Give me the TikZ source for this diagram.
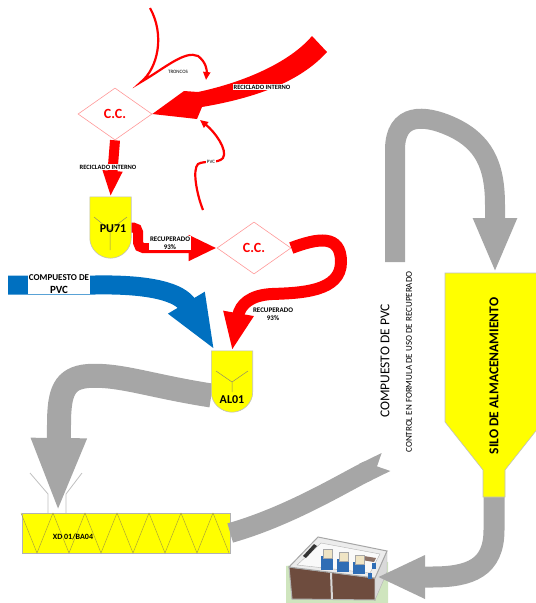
\documentclass[tikz,border=0pt]{standalone}
\usepackage{fontspec}
\setmainfont{Carlito}
\usetikzlibrary{arrows.meta,shapes.geometric}
\definecolor{FlowRed}{HTML}{FF0000}
\definecolor{FlowBlue}{HTML}{0070C0}
\definecolor{FlowGray}{HTML}{A6A6A6}
\definecolor{TankYellow}{HTML}{FFFF00}
\definecolor{Wall}{HTML}{6E4C3E}
\definecolor{Lawn}{HTML}{CFE5BE}
\definecolor{Cream}{HTML}{EFE4C4}
\definecolor{Pump}{HTML}{2F6DB5}

\begin{document}
\begin{tikzpicture}[x=1pt,y=-1pt,
  cc/.style={diamond,draw=FlowRed!40,line width=0.6pt,fill=white,minimum width=74pt,minimum height=52pt,inner sep=0pt,text=FlowRed,font=\fontsize{14}{14}\selectfont\bfseries},
  tankbox/.style={minimum width=41pt,minimum height=61pt,inner sep=0pt},
  tankline/.style={fill=TankYellow,draw=gray!50,line width=0.6pt},
  tanky/.style={draw=gray!70!olive,line width=0.5pt},
  tanklbl/.style={font=\fontsize{12}{12}\selectfont\bfseries,inner sep=0pt},
  tag/.style={font=\fontsize{6.5}{7}\selectfont\bfseries,inner sep=0.6pt,align=center},
  redpipe/.style={draw=FlowRed,line width=10pt},
  thinred/.style={draw=FlowRed,line width=2.2pt,-{Triangle[width=7pt,length=8pt]}},
  greypipe/.style={draw=FlowGray,line width=20pt},
  bluepipe/.style={draw=FlowBlue,line width=19pt},
  screw/.style={draw=olive!70,line width=0.5pt}]
\useasboundingbox (0,0) rectangle (536,603);

% plant at the bottom
\fill[Lawn] (286,566) -- (362,556) -- (388,562) -- (388,603) -- (286,603) -- cycle;
\filldraw[fill=Wall,draw=gray!60,line width=1pt] (289,567) -- (375,578) -- (375,600) -- (292,599) -- cycle;
\draw[gray!30,line width=2pt] (331,573) -- (332,599);
\filldraw[fill=gray!30,draw=gray!60] (375,578) -- (387,551) -- (387,572) -- (375,600) -- cycle;
\filldraw[fill=gray!15,draw=gray!70,line width=1pt] (289,567) -- (318,537) -- (387,551) -- (375,578) -- cycle;
\filldraw[fill=gray!5,draw=gray!60] (297,565) -- (321,543) -- (380,554) -- (370,573) -- cycle;
\fill[black!80] (303,556) -- (314,544) -- (317,546) -- (306,558) -- cycle;
\fill[Wall!80] (358,555) -- (376,558) -- (374,562) -- (356,559) -- cycle;
\foreach \i in {0,1,2} {
  \fill[Pump] (321+16*\i,556+3*\i) rectangle (333+16*\i,570+2*\i);
  \filldraw[fill=Cream,draw=gray!70] (323+16*\i,549+3*\i) rectangle (332+16*\i,558+3*\i);
}
\fill[Pump] (372,563) rectangle (376,569);
\fill[Pump] (368,573) rectangle (372,579);

% equipment
\node[cc] (cc1) at (115,114) {C.C.};
\node[cc] (cc2) at (254,248) {C.C.};
\node[tankbox] (pu) at (110.5,227.5) {};
\node[tankbox] (al) at (232,381.5) {};
\draw[gray!50,line width=0.8pt] (30,473) -- (48,494) -- (48,513);
\draw[gray!50,line width=0.8pt] (82,473) -- (66,494) -- (66,513);
\node[draw=gray!60,fill=TankYellow,minimum width=208pt,minimum height=40pt,inner sep=0pt] (xd) at (126,533) {};
\foreach \i in {0,...,6} \draw[screw] (21+32*\i,513) -- (37+32*\i,553);
\foreach \i in {0,...,5} \draw[screw] (37+32*\i,553) -- (53+32*\i,513);
\node[font=\fontsize{8}{8}\selectfont\bfseries] (xdlbl) at (73,537) {XD 01/BA04};

\coordinate (tronc) at (150,8);
\coordinate (troncend) at (206,80);
\coordinate (pvcthin) at (203,210);
\coordinate (pvcend) at (200,120);
\coordinate (pvcsrc) at (8,285);
\coordinate (hopper) at (58,513);
\coordinate (gnotch) at (386,462);
\coordinate (gup) at (395,262);
\coordinate (silotop) at (495,273);
\coordinate (siloneck) at (494,497);
\coordinate (plantin) at (377,577);

% grey flows
\draw[greypipe,line width=24pt,-{Triangle[width=50pt,length=75pt]}] ([yshift=-14pt]al.west) .. controls (150,386) and (120,374) .. (88,376) .. controls (64,378) and (59,392) .. (59,425) -- (hopper);
\draw[greypipe,-{Triangle Cap[reversed]}] (xd.east) .. controls (290,516) and (345,482) .. (gnotch);
\draw[greypipe,-{Triangle[width=40pt,length=55pt]}] (gup) -- (395,150) .. controls (395,112) and (425,115) .. (450,126) .. controls (484,141) and (495,165) .. (495,205) -- (silotop);
\draw[greypipe,line width=21pt,-{Triangle[width=40pt,length=48pt]}] (siloneck) -- (494,530) .. controls (494,568) and (470,577) .. (432,577) -- (plantin);

% red flows (the top one tapers towards its head)
\fill[FlowRed] (312,36) .. controls (290,62) and (245,82) .. (198,92) -- (184,91) -- (cc1.east) -- (197,119) -- (202,107) .. controls (255,98) and (300,82) .. (327,52) -- cycle;
\draw[thinred] (tronc) .. controls (165,35) and (158,68) .. (141,82) .. controls (165,68) and (185,50) .. (198,56) .. controls (206,62) and (207,70) .. (troncend);
\draw[thinred] (pvcthin) .. controls (197,195) and (192,170) .. (198,164) .. controls (205,160) and (218,164) .. (223,158) .. controls (228,150) and (215,132) .. (pvcend);
\draw[redpipe,-{Triangle[width=18pt,length=26pt]}] (cc1.south) -- (pu.north);
\draw[redpipe,rounded corners=5pt,-{Triangle[width=24pt,length=28pt]}] (pu.east) -- ++(7,0) |- (cc2.west);
\draw[redpipe,line width=12pt,-{Triangle[width=28pt,length=38pt]}] (cc2.east) .. controls (318,238) and (341,234) .. (341,262) .. controls (341,292) and (300,293) .. (272,294) .. controls (250,295) and (240,305) .. (al.north);

% blue flow
\draw[bluepipe,-{Triangle[width=38pt,length=56pt]}] (pvcsrc) -- (95,285) .. controls (150,284) and (180,292) .. ([xshift=-17pt]al.north);

% hoppers
\foreach \t in {pu,al} {
  \filldraw[tankline] (\t.north west) -- (\t.north east) -- ([yshift=20pt]\t.south east) .. controls ([yshift=9pt]\t.south east) and ([xshift=11pt]\t.south) .. (\t.south) .. controls ([xshift=-11pt]\t.south) and ([yshift=9pt]\t.south west) .. ([yshift=20pt]\t.south west) -- cycle;
}
\draw[tanky] (94,217) -- (110,230) -- (127,217) (110,230) -- (110,250);
\draw[tanky] (216,371) -- (232,382) -- (248,371) (232,382) -- (232,392);
\node[tanklbl] (pulbl) at (113,229) {PU71};
\node[tanklbl] (allbl) at (232,400) {AL01};

% silo
\filldraw[fill=TankYellow,draw=gray!50,line width=0.6pt] (445,273) -- (543,273) -- (543,422) -- (505,470) -- (505,497) -- (483,497) -- (483,470) -- (445,422) -- cycle;
\node[rotate=90,font=\fontsize{13.5}{14}\selectfont\bfseries] (silo) at (494,376) {SILO DE ALMACENAMIENTO};

% labels
\node[tag,fill=white] (rilbl1) at (262,87) {RECICLADO INTERNO};
\node[tag,fill=white] (rilbl2) at (108,167) {RECICLADO INTERNO};
\node[tag,font=\fontsize{5}{5}\selectfont] (trlbl) at (178,72) {TRONCOS};
\node[tag,fill=white,font=\fontsize{5}{5}\selectfont] (pvclbl) at (211,162) {PVC};
\node[tag,fill=white,font=\fontsize{7}{7.5}\selectfont\bfseries] (rec1) at (170,243) {RECUPERADO\\93\%};
\node[tag,font=\fontsize{7}{7.5}\selectfont\bfseries] (rec2) at (273,314) {RECUPERADO\\93\%};
\node[fill=white,inner sep=1pt,align=center,font=\bfseries] (pvcin) at (59,284) {{\fontsize{9}{9}\selectfont COMPUESTO DE}\\[1pt]{\fontsize{11}{11}\selectfont PVC}};
\node[rotate=90,font=\fontsize{13.5}{14}\selectfont] (cmp) at (385,361) {COMPUESTO DE PVC};
\node[rotate=90,font=\fontsize{9}{9}\selectfont] (ctl) at (409,362) {CONTROL EN FORMULA DE USO DE RECUPERADO};
\end{tikzpicture}
\end{document}
